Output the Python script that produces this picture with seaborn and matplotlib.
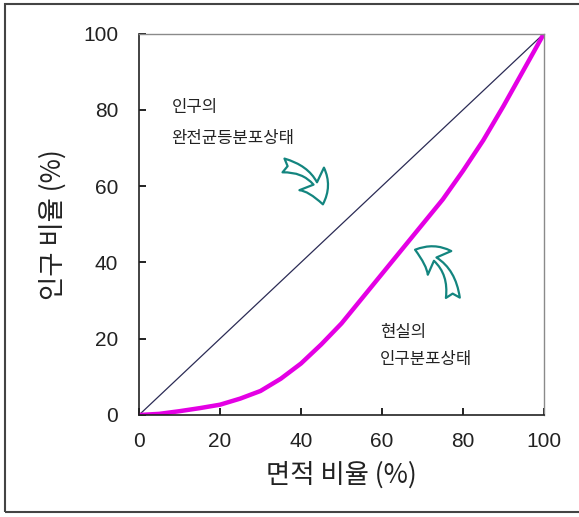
import matplotlib
matplotlib.use("Agg")
import matplotlib.pyplot as plt
import seaborn as sns
from matplotlib.patches import Rectangle

# Lorenz curve data (area share vs. population share, %)
area_pct = [0, 5, 10, 15, 20, 25, 30, 35, 40, 45, 50, 55, 60, 65, 70, 75, 80, 85, 90, 95, 100]
pop_pct = [0, 0.3, 1.0, 1.8, 2.7, 4.3, 6.3, 9.5, 13.5, 18.5, 24, 30.5, 37, 43.5, 50, 56.5, 64, 72, 81, 90.5, 100]
equal_x = [0, 100]
equal_y = [0, 100]
ticks = [0, 20, 40, 60, 80, 100]

sns.set_theme(style="white")
plt.rcParams['font.family'] = ['Noto Sans CJK KR', 'DejaVu Sans']

fig = plt.figure(figsize=(5.79, 5.17), dpi=100)
ax = fig.add_axes([139 / 579, 102 / 517, 405 / 579, 381.5 / 517])

sns.lineplot(x=equal_x, y=equal_y, ax=ax, color="#2b2b55", lw=0.9)
sns.lineplot(x=area_pct, y=pop_pct, ax=ax, color="#e400e4", lw=3.2,
             solid_joinstyle="round", solid_capstyle="round")

ax.set_xticks(ticks)
ax.set_yticks(ticks)
ax.set_xlim(0, 100)
ax.set_ylim(0, 100)
# inward ticks like the original
ax.xaxis.set_tick_params(which="major", bottom=True, direction="in",
                         length=5, width=1.3, color="#111111", labelsize=15, pad=12)
ax.yaxis.set_tick_params(which="major", left=True, direction="in",
                         length=5, width=1.3, color="#111111", labelsize=15, pad=15)
for lab in ax.get_xticklabels() + ax.get_yticklabels():
    lab.set_family(['Liberation Sans', 'DejaVu Sans'])
    lab.set_color("#222222")

for side in ["left", "bottom"]:
    ax.spines[side].set_color("#222222")
    ax.spines[side].set_linewidth(1.2)
for side in ["top", "right"]:
    ax.spines[side].set_color("#8a8a8a")
    ax.spines[side].set_linewidth(1.0)

ax.set_xlabel("면적 비율 (%)", fontsize=19, color="#222222", labelpad=8)
ax.set_ylabel("인구 비율 (%)", fontsize=19, color="#222222", labelpad=12)

ax.text(8, 80.5, "인구의", fontsize=12, color="#222222", va="center")
ax.text(8, 72.5, "완전균등분포상태", fontsize=12, color="#222222", va="center")
ax.text(59.5, 21.5, "현실의", fontsize=12, color="#222222", va="center")
ax.text(59.5, 14.5, "인구분포상태", fontsize=12, color="#222222", va="center")

teal = "#13857f"
arrow_style = "fancy,head_length=1.0,head_width=1.2,tail_width=0.5"
ax.annotate("", xy=(45.5, 54.5), xytext=(35, 65.5),
            arrowprops=dict(arrowstyle=arrow_style, connectionstyle="arc3,rad=-0.4",
                            fc="white", ec=teal, lw=1.6, mutation_scale=20))
ax.annotate("", xy=(67.5, 43.5), xytext=(77.5, 30),
            arrowprops=dict(arrowstyle=arrow_style, connectionstyle="arc3,rad=0.4",
                            fc="white", ec=teal, lw=1.6, mutation_scale=20))

# outer frame around the figure
fig.patches.append(Rectangle((5 / 579, 5 / 517), 1.2, 508 / 517, transform=fig.transFigure,
                             fill=False, ec="#444444", lw=1.5))

fig.savefig("out.png", dpi=100)
